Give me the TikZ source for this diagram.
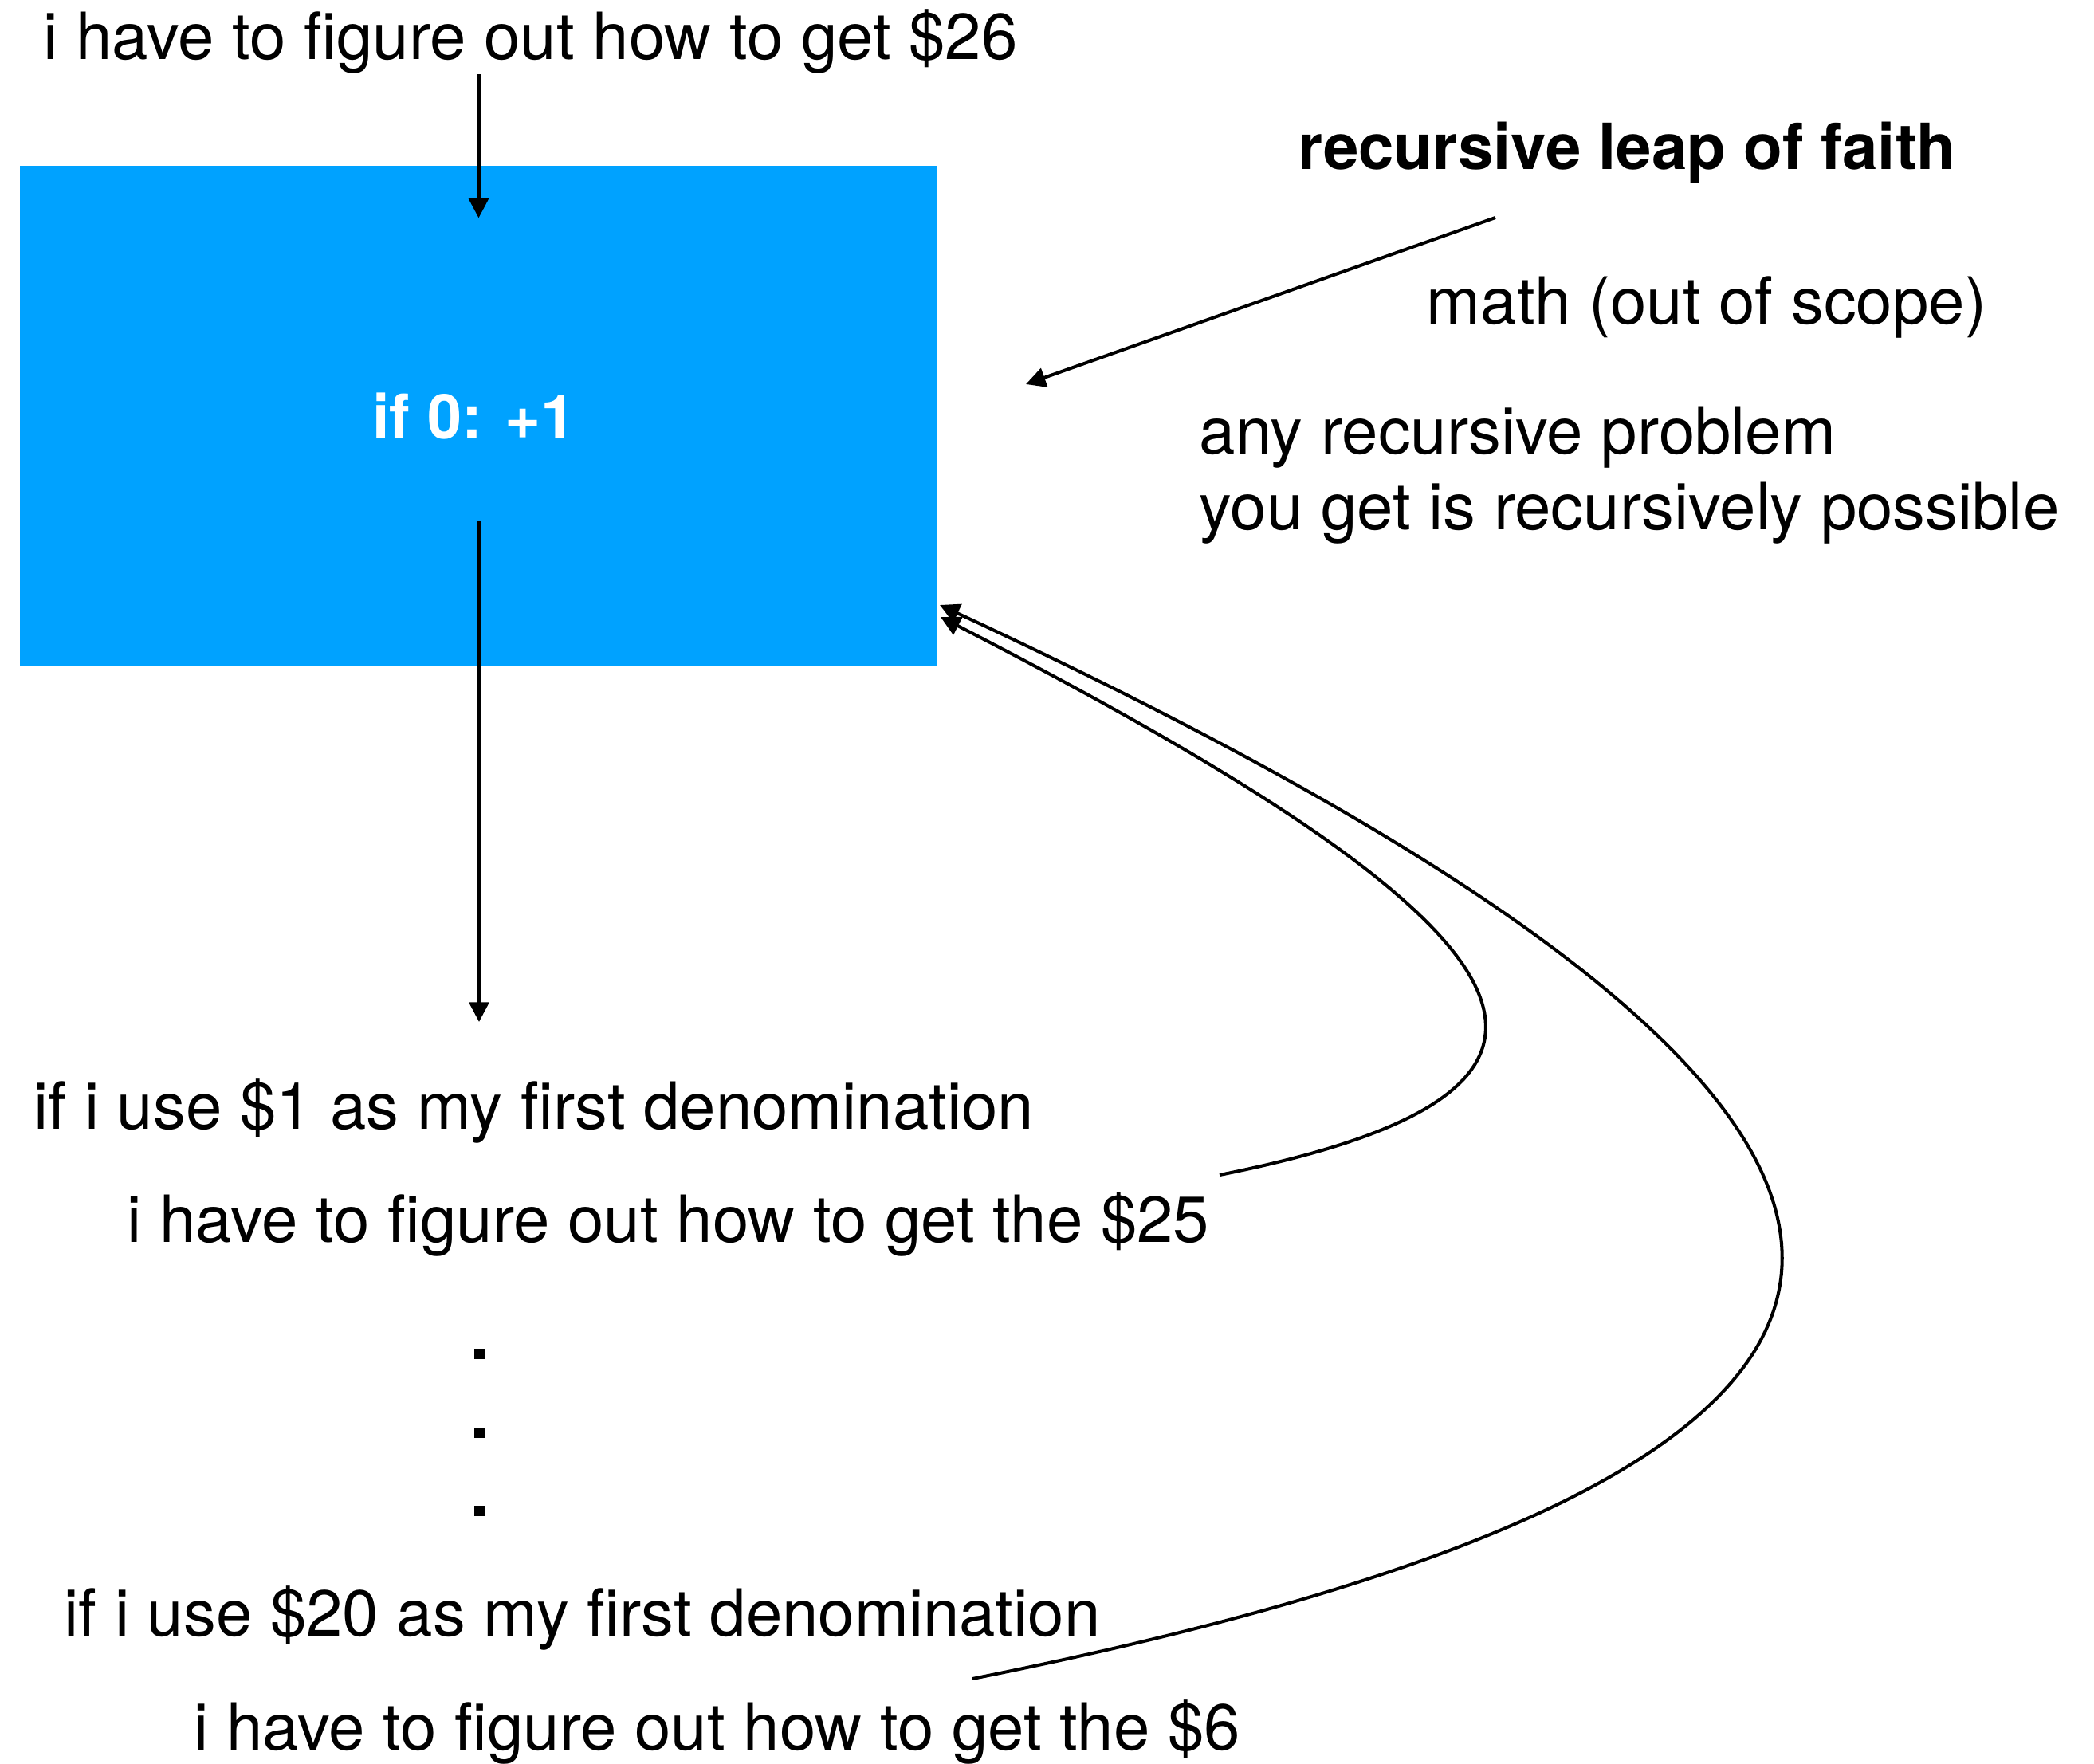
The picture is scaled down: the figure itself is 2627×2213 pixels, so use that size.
\documentclass[tikz,border=0pt]{standalone}
\usepackage{fontspec}
\setmainfont{TeX Gyre Heros}
\usetikzlibrary{arrows.meta}
\definecolor{boxblue}{RGB}{0,162,255}

\begin{document}
\begin{tikzpicture}[
        x=0.01cm, y=-0.01cm,
        txt/.style={inner sep=0pt, anchor=base west, font=\fontsize{23.2}{28}\selectfont},
        dotmark/.style={fill, inner sep=0pt, minimum size=0.13cm},
        arrow/.style={-{Triangle[width=7pt,length=7pt]}, line width=1.3pt},
        leapline/.style={-{Triangle[width=7pt,length=7pt]}, line width=1.15pt}
    ]
        \useasboundingbox (0,0) rectangle (2627,2213);

        \node[fill=boxblue, inner sep=0pt, minimum width=11.51cm, minimum height=6.27cm] (base) at (600.5,521.5) {};
        \node[txt, anchor=center, text=white, font=\fontsize{22}{28}\selectfont\bfseries] (basecase) at (594.5,522) {if 0: +1};

        \node[txt] (goal26) at (54,75) {i have to figure out how to get \$26};
        \node[txt, font=\fontsize{22.7}{28}\selectfont\bfseries] (leap) at (1628,213) {recursive leap of faith};
        \node[txt] (math) at (1789,407) {math (out of scope)};
        \node[txt] (any) at (1504,570) {any recursive problem};
        \node[txt] (possible) at (1504,665) {you get is recursively possible};

        \node[txt] (use1) at (42,1416) {if i use \$1 as my first denomination};
        \node[txt] (get25) at (159,1558) {i have to figure out how to get the \$25};
        \foreach \y [count=\i] in {1698,1797,1895}
            \node[dotmark] (dot\i) at (601,\y) {};
        \node[txt] (use20) at (80,2052) {if i use \$20 as my first denomination};
        \node[txt] (get6) at (243,2195) {i have to figure out how to get the \$6};

        \coordinate (split) at (601,653);
        \coordinate (down) at (601,1282);
        \coordinate (leapfrom) at (1876,273);
        \coordinate (leapto) at (1287,482);
        \coordinate (from25) at (1530,1474);
        \coordinate (to25) at (1180,774);
        \coordinate (from6) at (1220,2106);
        \coordinate (to6) at (1179,759);

        \draw[arrow] (goal26.south -| base) -- ++(0,180);
        \draw[arrow] (split) -- (down);
        \draw[leapline] (leapfrom) -- (leapto);
        \draw[leapline] (from25) .. controls (2066,1367) and (1957,1174) .. (to25);
        \draw[leapline] (from6) .. controls (2585,1833) and (2570,1406) .. (to6);
    \end{tikzpicture}
\end{document}
